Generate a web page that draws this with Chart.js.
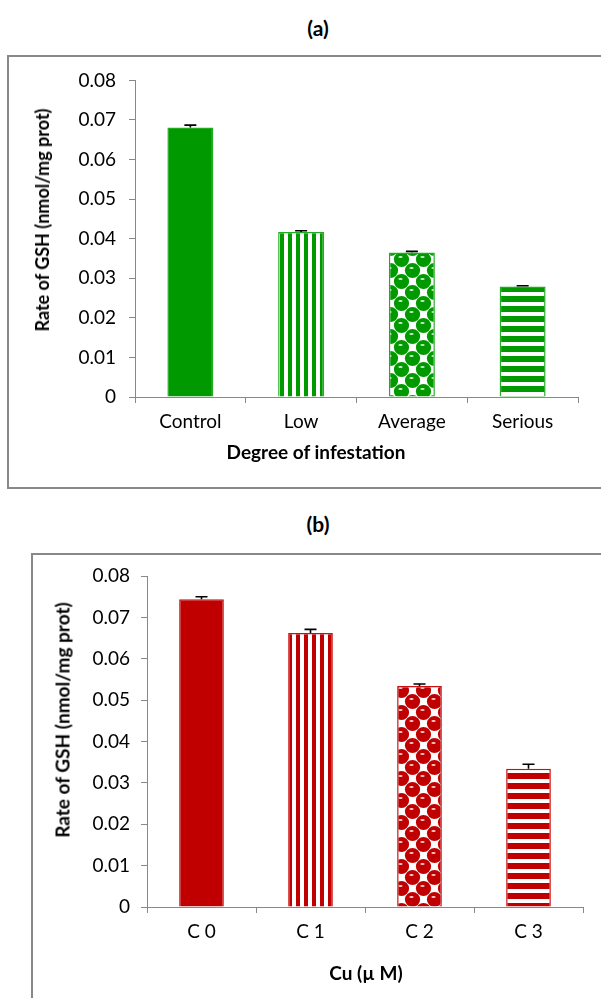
<!DOCTYPE html>
<html>
<head>
<meta charset="utf-8">
<script src="https://cdn.jsdelivr.net/npm/chart.js@4"></script>
<style>
  html, body { margin:0; padding:0; background:#fff; }
  body { width:601px; height:998px; position:relative; overflow:hidden; font-family:Lato, "Open Sans", sans-serif; color:#000; }
  .box { position:absolute; border:2px solid #888; border-right:none; }
  .panel-title { position:absolute; font-weight:bold; font-size:21px; transform:translate(-50%,-50%); }
  .ax-title { position:absolute; font-weight:bold; font-size:19px; white-space:nowrap; transform:translate(-50%,-50%); }
  .ax-title.rot { transform:translate(-50%,-50%) rotate(-90deg); font-size:18px; }
  canvas { position:absolute; left:0; }
</style>
</head>
<body>
  <div class="panel-title" style="left:318px; top:27px;">(a)</div>
  <div class="box" style="left:7px; top:55px; width:640px; height:430px;"></div>
  <canvas id="chartA" width="601" height="432" style="top:56px;"></canvas>
  <div class="ax-title rot" style="left:42px; top:220px;">Rate of GSH (nmol/mg prot)</div>
  <div class="ax-title" style="left:316px; top:451px;">Degree of infestation</div>

  <div class="panel-title" style="left:318px; top:523px;">(b)</div>
  <div class="box" style="left:31px; top:553px; width:640px; height:500px;"></div>
  <canvas id="chartB" width="601" height="445" style="top:553px;"></canvas>
  <div class="ax-title rot" style="left:62px; top:720px; font-size:19px;">Rate of GSH (nmol/mg prot)</div>
  <div class="ax-title" style="left:366px; top:972px;">Cu (µ M)</div>

<script>
/* ---- data ---- */
const infestLabels = ['Control', 'Low', 'Average', 'Serious'];
const gshInfest    = [0.0681, 0.0417, 0.0365, 0.0279];
const errInfest    = [0.0006, 0.0003, 0.0003, 0.0002];

const cuLabels = ['C 0', 'C 1', 'C 2', 'C 3'];
const gshCu    = [0.0744, 0.0662, 0.0534, 0.0334];
const errCu    = [0.0006, 0.0009, 0.0005, 0.0011];

const Y_MIN = 0, Y_MAX = 0.08, Y_STEP = 0.01;

const GREEN = '#009900', GREEN_EDGE = '#22aa22';
const RED = '#c00000', RED_EDGE = '#c81010';
const AXIS = '#888';

/* ---- fill patterns (solid, vertical stripes, spheres, horizontal stripes) ---- */
function tile(w, h, draw){
  const c = document.createElement('canvas');
  c.width = w; c.height = h;
  const x = c.getContext('2d');
  x.fillStyle = '#fff'; x.fillRect(0, 0, w, h);
  draw(x);
  return c;
}

function makePatterns(ctx, color){
  const vert = tile(8, 8, x => { x.fillStyle = color; x.fillRect(0, 0, 4, 8); });
  const horiz = tile(10, 10, x => { x.fillStyle = color; x.fillRect(0, 0, 10, 6); });
  const sphere = tile(22, 22, x => {
    const centers = [[5.5, 5.5], [16.5, 16.5]];
    centers.forEach(([cx, cy]) => {
      for (let dx = -22; dx <= 22; dx += 22) for (let dy = -22; dy <= 22; dy += 22) {
        x.fillStyle = color;
        x.beginPath(); x.arc(cx + dx, cy + dy, 7.6, 0, Math.PI * 2); x.fill();
      }
    });
    centers.forEach(([cx, cy]) => {
      x.fillStyle = 'rgba(255,255,255,0.8)';
      x.beginPath(); x.ellipse(cx - 1, cy - 2.5, 2.2, 1.1, 0, 0, Math.PI * 2); x.fill();
    });
  });
  return [color,
          ctx.createPattern(vert, 'repeat'),
          ctx.createPattern(sphere, 'repeat'),
          ctx.createPattern(horiz, 'repeat')];
}

/* ---- error bars (upper arm only, the lower one sits inside the bar) ---- */
const errorBars = {
  id: 'errorBars',
  afterDatasetsDraw(chart){
    const ds = chart.data.datasets[0];
    const meta = chart.getDatasetMeta(0);
    const y = chart.scales.y;
    const ctx = chart.ctx;
    ctx.save();
    ctx.strokeStyle = '#000';
    ctx.lineWidth = 1.6;
    meta.data.forEach((bar, i) => {
      const top = y.getPixelForValue(ds.data[i] + ds.errors[i]);
      ctx.beginPath();
      ctx.moveTo(bar.x, bar.y);
      ctx.lineTo(bar.x, top);
      ctx.moveTo(bar.x - 6, top);
      ctx.lineTo(bar.x + 6, top);
      ctx.stroke();
    });
    ctx.restore();
  }
};

function barChart(id, labels, values, errors, color, edge, g){
  const ctx = document.getElementById(id).getContext('2d');
  return new Chart(ctx, {
    type: 'bar',
    data: {
      labels,
      datasets: [{
        data: values,
        errors,
        backgroundColor: makePatterns(ctx, color),
        borderColor: edge,
        borderWidth: 1.5,
        barPercentage: g.barPct,
        categoryPercentage: 1
      }]
    },
    options: {
      responsive: false,
      animation: false,
      devicePixelRatio: 1,
      layout: { padding: { top: g.top, right: g.right, left: 0, bottom: 0 } },
      plugins: { legend: { display: false }, tooltip: { enabled: false } },
      scales: {
        x: {
          afterFit: s => { s.height = g.xHeight; },
          grid: { display: true, drawOnChartArea: false, drawTicks: true, tickLength: 6, color: AXIS },
          border: { color: AXIS, width: 1 },
          ticks: { color: '#000', padding: g.xPad, font: { family: 'Lato', size: 19 } }
        },
        y: {
          min: Y_MIN, max: Y_MAX,
          afterFit: s => { s.width = g.yWidth; },
          grid: { display: true, drawOnChartArea: false, drawTicks: true, tickLength: 6, color: AXIS },
          border: { color: AXIS, width: 1 },
          ticks: {
            stepSize: Y_STEP, color: '#000', padding: g.yPad,
            font: { family: 'Lato', size: 19 },
            callback: v => String(+v.toFixed(2))
          }
        }
      }
    },
    plugins: [errorBars]
  });
}

barChart('chartA', infestLabels, gshInfest, errInfest, GREEN, GREEN_EDGE,
  { top: 21, right: 23, xHeight: 91, yWidth: 135, xPad: 7, yPad: 13, barPct: 0.415 });
barChart('chartB', cuLabels, gshCu, errCu, RED, RED_EDGE,
  { top: 23, right: 18, xHeight: 91, yWidth: 147, xPad: 7, yPad: 11, barPct: 0.41 });
</script>
</body>
</html>
